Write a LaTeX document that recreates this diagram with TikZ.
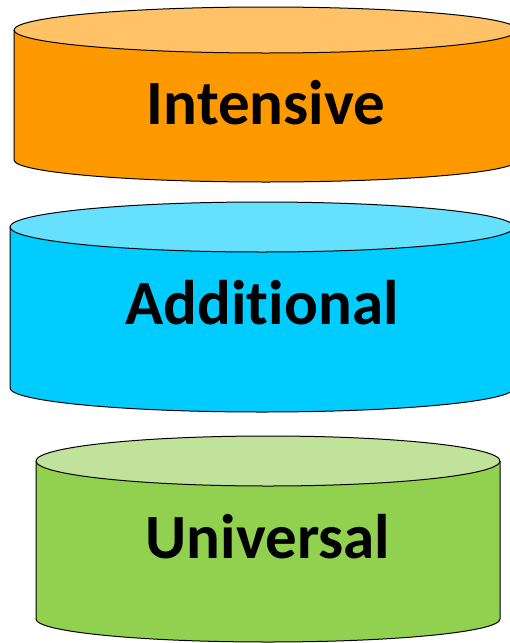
\documentclass[tikz,border=0pt]{standalone}
\usepackage{fontspec}
\setmainfont[Ligatures=NoCommon]{Carlito}
\definecolor{orangeside}{HTML}{FF9900}
\definecolor{orangetop}{HTML}{FFC266}
\definecolor{blueside}{HTML}{00CCFF}
\definecolor{bluetop}{HTML}{66E0FF}
\definecolor{greenside}{HTML}{92D050}
\definecolor{greentop}{HTML}{C0E29A}
\tikzset{
  cylline/.style={draw=black, line width=1pt, line join=round},
  label/.style={font=\fontsize{63}{70}\selectfont\bfseries, text=black, anchor=base, inner sep=0pt}
}
% #1 cx, #2 rx, #3 top y, #4 top ry, #5 bottom y, #6 bottom ry, #7 side colour, #8 top colour
\newcommand\mycyl[8]{%
  \fill[#7] (#1-#2,#3) -- (#1-#2,#5) arc[start angle=180, end angle=0, x radius=#2, y radius=#6] -- (#1+#2,#3) -- cycle;
  \draw[cylline] (#1-#2,#3) -- (#1-#2,#5) arc[start angle=180, end angle=0, x radius=#2, y radius=#6] -- (#1+#2,#3);
  \draw[cylline, fill=#8] (#1,#3) ellipse[x radius=#2, y radius=#4];
}
\begin{document}
\begin{tikzpicture}[x=1pt, y=-1pt]
\useasboundingbox (0,0) rectangle (510,643);
\clip (0,0) rectangle (510,643);
\mycyl{266}{252}{30}{23}{160}{22}{orangeside}{orangetop}
\mycyl{262}{252}{227}{25}{388}{24}{blueside}{bluetop}
\mycyl{268}{232}{461}{25}{619}{23}{greenside}{greentop}
\node[label] (intensive) at (266,124) {Intensive};
\node[label] (additional) at (262,324) {Additional};
\node[label] (universal) at (268,558) {Universal};
\end{tikzpicture}
\end{document}
